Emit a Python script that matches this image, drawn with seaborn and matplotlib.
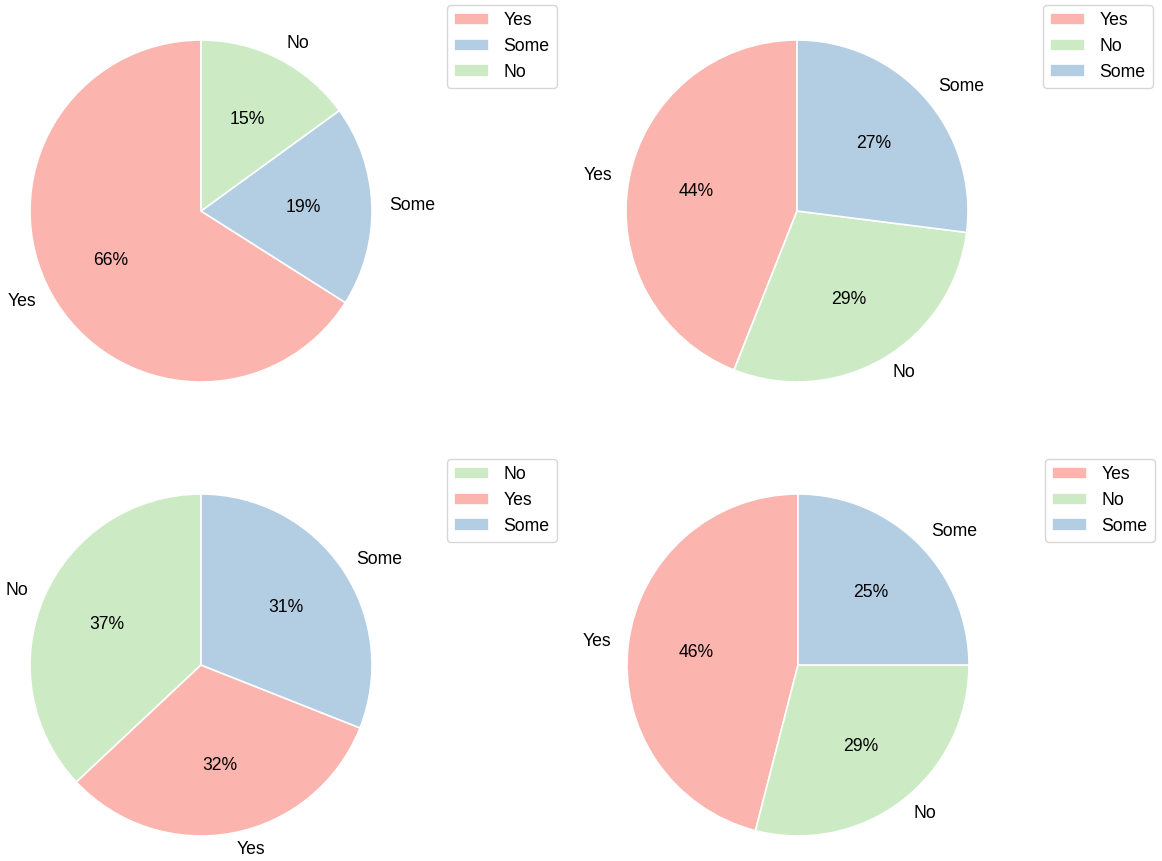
import matplotlib
matplotlib.use("Agg")
import matplotlib.pyplot as plt
import seaborn as sns

# slice order (counter-clockwise from top) and shares for each panel
labels_1 = ["Yes", "Some", "No"]
values_1 = [66, 19, 15]
labels_2 = ["Yes", "No", "Some"]
values_2 = [44, 29, 27]
labels_3 = ["No", "Yes", "Some"]
values_3 = [37, 32, 31]
labels_4 = ["Yes", "No", "Some"]
values_4 = [46, 29, 25]

sns.set_theme(style="white")
plt.rcParams['font.family'] = ['Liberation Sans', 'DejaVu Sans']
plt.rcParams['text.color'] = 'black'

pal = sns.color_palette("Pastel1")
colors = {"Yes": pal[0], "Some": pal[1], "No": pal[2]}

W, H = 1162, 861
fig = plt.figure(figsize=(W / 100, H / 100), dpi=100)

R = 171
panels = [
    (labels_1, values_1, (201, 211), (447, 5)),
    (labels_2, values_2, (797, 211), (1043, 5)),
    (labels_3, values_3, (201, 665), (447, 459)),
    (labels_4, values_4, (798, 665), (1045, 459)),
]

for labels, values, (cx, cy), (lx, ly) in panels:
    side = 2.5 * R
    ax = fig.add_axes([(cx - side / 2) / W, (H - cy - side / 2) / H, side / W, side / H])
    wedges, texts, autotexts = ax.pie(
        values, labels=labels, colors=[colors[l] for l in labels],
        startangle=90, autopct='%1.0f%%',
        wedgeprops={'edgecolor': 'white', 'linewidth': 1.2},
        textprops={'fontsize': 12.7, 'color': 'black'},
    )
    ax.set_xlim(-1.25, 1.25)
    ax.set_ylim(-1.25, 1.25)
    leg = ax.legend(wedges, labels, loc='upper left', bbox_to_anchor=(lx / W, 1 - ly / H),
                    bbox_transform=fig.transFigure, borderaxespad=0, fontsize=12.7)
    for t in leg.get_texts():
        t.set_color('black')

fig.savefig("out.png", dpi=100)
